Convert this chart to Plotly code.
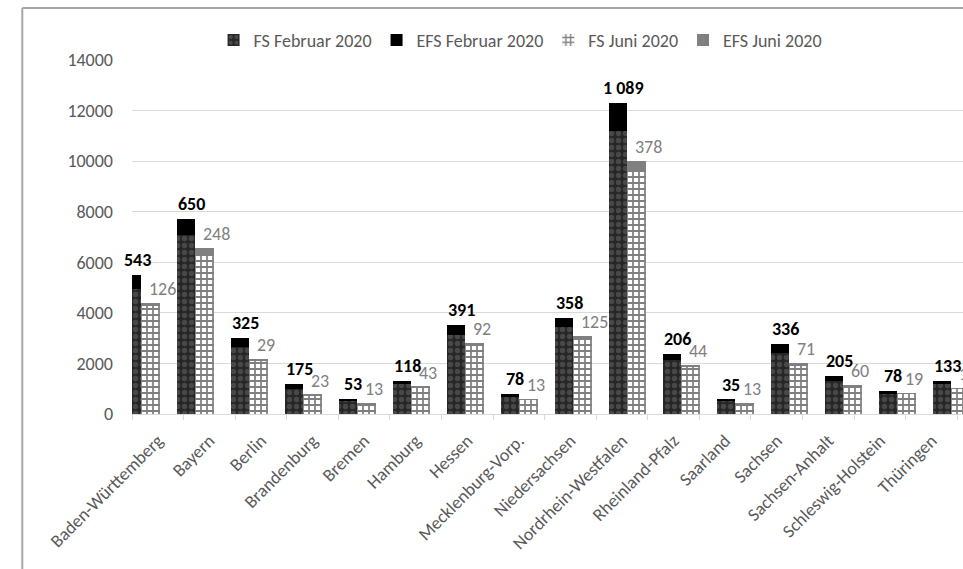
import plotly.graph_objects as go

# Bundesländer
states = ["Baden-Württemberg", "Bayern", "Berlin", "Brandenburg", "Bremen",
          "Hamburg", "Hessen", "Mecklenburg-Vorp.", "Niedersachsen",
          "Nordrhein-Westfalen", "Rheinland-Pfalz", "Saarland", "Sachsen",
          "Sachsen-Anhalt", "Schleswig-Holstein", "Thüringen"]

# Februar 2020
fs_feb = [4950, 7080, 2665, 1000, 530, 1200, 3125, 710, 3450, 11210,
          2150, 520, 2420, 1295, 830, 1170]
efs_feb = [543, 650, 325, 175, 53, 118, 391, 78, 358, 1089,
           206, 35, 336, 205, 78, 133]

# Juni 2020
fs_jun = [4270, 6300, 2130, 730, 410, 1035, 2700, 570, 2955, 9620,
          1890, 410, 1930, 1085, 795, 1000]
efs_jun = [126, 248, 29, 23, 13, 43, 92, 13, 125, 378,
           44, 13, 71, 60, 19, 17]

y_ticks = [0, 2000, 4000, 6000, 8000, 10000, 12000, 14000]

FONT = "Carlito, Calibri, Lato, sans-serif"
AXIS_GREY = "#595959"
GRID = "#d9d9d9"
FS = 18


def fmt(v):
    return f"{v:,}".replace(",", " ")


tot_feb = [a + b for a, b in zip(fs_feb, efs_feb)]
tot_jun = [a + b for a, b in zip(fs_jun, efs_jun)]

W_FEB = 0.333
W_JUN = 0.352

fig = go.Figure()

# invisible trace so the category axis carries the state names
fig.add_trace(go.Scatter(x=states, y=[0] * len(states), mode="lines",
                         line=dict(width=0), hoverinfo="skip",
                         showlegend=False, xaxis="x", yaxis="y"))

fig.add_trace(go.Bar(
    name="FS Februar 2020", x=states, y=fs_feb, xaxis="x2", yaxis="y",
    offset=-W_FEB, width=W_FEB,
    marker=dict(color="#2a2a2a", line=dict(width=0),
                pattern=dict(shape=".", fgcolor="#6a6a6a", bgcolor="#262626",
                             size=7, solidity=0.45)),
))
fig.add_trace(go.Bar(
    name="EFS Februar 2020", x=states, y=efs_feb, base=fs_feb,
    xaxis="x2", yaxis="y", offset=-W_FEB, width=W_FEB,
    marker=dict(color="#000000", line=dict(width=0)),
))
fig.add_trace(go.Bar(
    name="FS Juni 2020", x=states, y=fs_jun, xaxis="x2", yaxis="y",
    offset=0, width=W_JUN,
    marker=dict(color="#ffffff", line=dict(width=0),
                pattern=dict(shape="+", fgcolor="#000000", bgcolor="#ffffff",
                             size=6, solidity=0.5)),
))
fig.add_trace(go.Bar(
    name="EFS Juni 2020", x=states, y=efs_jun, base=fs_jun,
    xaxis="x2", yaxis="y", offset=0, width=W_JUN,
    marker=dict(color="#808080", line=dict(width=0)),
))

annotations = []
for s, tf, ef, tj, ej in zip(states, tot_feb, efs_feb, tot_jun, efs_jun):
    annotations.append(dict(
        x=s, y=tf, xref="x2", yref="y", text=f"<b>{fmt(ef)}</b>",
        showarrow=False, xanchor="center", yanchor="bottom",
        xshift=-4, yshift=2,
        font=dict(family=FONT, size=FS, color="#000000"),
    ))
    annotations.append(dict(
        x=s, y=tj, xref="x2", yref="y", text=fmt(ej),
        showarrow=False, xanchor="left", yanchor="middle",
        xshift=6, yshift=14,
        font=dict(family=FONT, size=FS, color="#808080"),
    ))

# chart frame
frame = dict(type="line", xref="paper", yref="paper",
             line=dict(color="#a6a6a6", width=2))
shapes = [
    dict(frame, x0=-0.132, x1=-0.132, y0=1.147, y1=-0.45),
    dict(frame, x0=-0.132, x1=1.05, y0=1.147, y1=1.147),
]

fig.update_layout(
    width=963, height=569,
    margin=dict(l=132, r=0, t=60, b=155, autoexpand=False),
    paper_bgcolor="white", plot_bgcolor="white",
    barmode="overlay", bargap=0,
    font=dict(family=FONT, color=AXIS_GREY),
    showlegend=True,
    legend=dict(orientation="h", x=0.467, xanchor="center",
                y=1.056, yanchor="middle", traceorder="normal",
                font=dict(family=FONT, size=FS, color=AXIS_GREY),
                bgcolor="rgba(0,0,0,0)"),
    xaxis=dict(type="category", categoryorder="array", categoryarray=states,
               range=[-0.5, 15.61], tickson="boundaries", ticks="outside",
               ticklen=5, tickcolor=GRID, showline=True, linecolor=GRID,
               showgrid=False, tickangle=-45, ticklabelstandoff=8,
               tickfont=dict(family=FONT, size=FS, color=AXIS_GREY)),
    xaxis2=dict(type="category", categoryorder="array", categoryarray=states,
                overlaying="x", range=[-0.172, 15.222], visible=False),
    yaxis=dict(range=[0, 14000], tickvals=y_ticks, tickformat="d",
               showgrid=True, gridcolor=GRID, zeroline=True,
               zerolinecolor=GRID, showline=False, ticks="",
               ticklabelstandoff=18,
               tickfont=dict(family=FONT, size=FS, color=AXIS_GREY)),
    annotations=annotations,
    shapes=shapes,
)

fig.write_html("out.html")
